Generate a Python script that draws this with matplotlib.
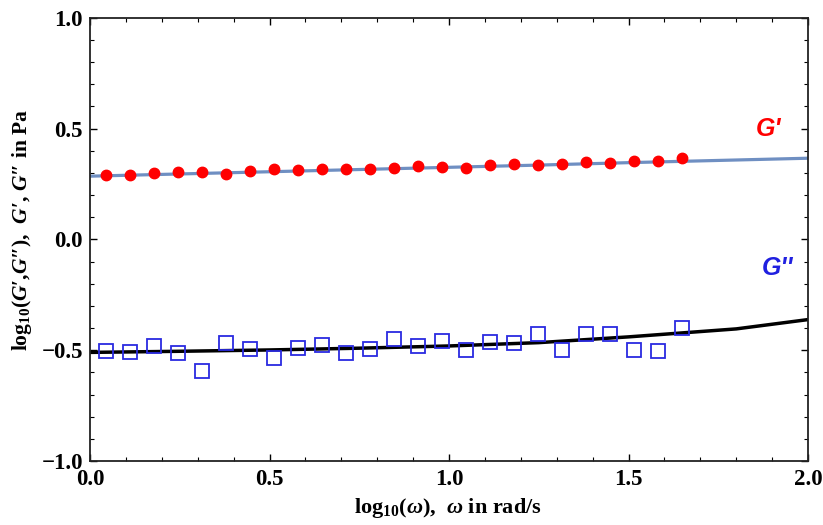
import matplotlib
matplotlib.use('Agg')
import matplotlib.pyplot as plt
import numpy as np
from matplotlib.ticker import MultipleLocator

plt.rcParams['font.family'] = ['Liberation Serif', 'DejaVu Serif']
plt.rcParams['font.weight'] = 'bold'
plt.rcParams['mathtext.fontset'] = 'custom'
plt.rcParams['mathtext.rm'] = 'Liberation Serif:bold'
plt.rcParams['mathtext.it'] = 'Liberation Serif:italic:bold'
plt.rcParams['mathtext.bf'] = 'Liberation Serif:bold'

# log10(omega) of the measured points
log_w = [0.044, 0.111, 0.178, 0.245, 0.312, 0.378, 0.445, 0.512, 0.579, 0.646,
         0.713, 0.780, 0.847, 0.914, 0.981, 1.047, 1.114, 1.181, 1.248, 1.315,
         1.382, 1.449, 1.516, 1.582, 1.648]

# storage modulus G'
g1 = [0.289, 0.291, 0.300, 0.303, 0.306, 0.296, 0.308, 0.317, 0.311, 0.318,
      0.318, 0.318, 0.321, 0.330, 0.327, 0.321, 0.335, 0.342, 0.336, 0.341,
      0.350, 0.344, 0.353, 0.353, 0.365]

# loss modulus G''
g2 = [-0.504, -0.510, -0.483, -0.515, -0.592, -0.468, -0.495, -0.537, -0.491, -0.477,
      -0.515, -0.495, -0.450, -0.479, -0.458, -0.497, -0.462, -0.467, -0.425, -0.501,
      -0.425, -0.428, -0.498, -0.502, -0.398]

# model curves
fit_x = [0.0, 0.25, 0.5, 0.75, 1.0, 1.25, 1.5, 1.8, 2.0]
fit_g1 = [0.285, 0.295, 0.305, 0.315, 0.325, 0.335, 0.346, 0.358, 0.366]
fit_g2 = [-0.510, -0.505, -0.499, -0.491, -0.481, -0.466, -0.440, -0.404, -0.362]

fig = plt.figure(figsize=(8.23, 5.25), dpi=100)
ax = fig.add_axes([0.1094, 0.1219, 0.8724, 0.8444])

ax.plot(fit_x, fit_g1, color='#6f8fc2', lw=2.3, zorder=2)
ax.plot(log_w, g1, 'o', color='#ff0000', ms=7.5, zorder=3)

ax.plot(fit_x, fit_g2, color='black', lw=2.5, zorder=2)
ax.plot(log_w, g2, 's', mfc='none', mec='#2a2ae0', mew=1.3, ms=9.5, zorder=3)

ax.text(1.89, 0.50, "G'", color='#ff0000', fontsize=18, style='italic',
        fontweight='bold', family='Liberation Sans', ha='center', va='center')
ax.text(1.915, -0.128, "G''", color='#2020e0', fontsize=18, style='italic',
        fontweight='bold', family='Liberation Sans', ha='center', va='center')

ax.set_xlim(0, 2)
ax.set_ylim(-1, 1)
ax.xaxis.set_major_locator(MultipleLocator(0.5))
ax.xaxis.set_minor_locator(MultipleLocator(0.1))
ax.yaxis.set_major_locator(MultipleLocator(0.5))
ax.yaxis.set_minor_locator(MultipleLocator(0.1))
fmt = plt.FuncFormatter(lambda v, p: f'{v:.1f}'.replace('-', '\u2212'))
ax.xaxis.set_major_formatter(fmt)
ax.yaxis.set_major_formatter(fmt)
ax.tick_params(which='both', direction='in', top=True, right=True, labelsize=16.5)
ax.tick_params(axis='y', pad=5)
ax.tick_params(axis='x', pad=6)
ax.tick_params(which='major', length=5, width=1)
ax.tick_params(which='minor', length=3, width=0.8)
for s in ax.spines.values():
    s.set_linewidth(1.3)
    s.set_color('#222222')

ax.set_xlabel(r'log$_{10}$($\omega$),  $\omega$ in rad/s', fontsize=16,
              fontweight='bold')
ax.set_ylabel(r"log$_{10}$($G$′,$G$″),  $G$′, $G$″ in Pa", fontsize=15.5,
              fontweight='bold')
ax.xaxis.set_label_coords(0.499, -0.08)
ax.yaxis.set_label_coords(-0.078, 0.52)

fig.savefig('out.png', dpi=100)
